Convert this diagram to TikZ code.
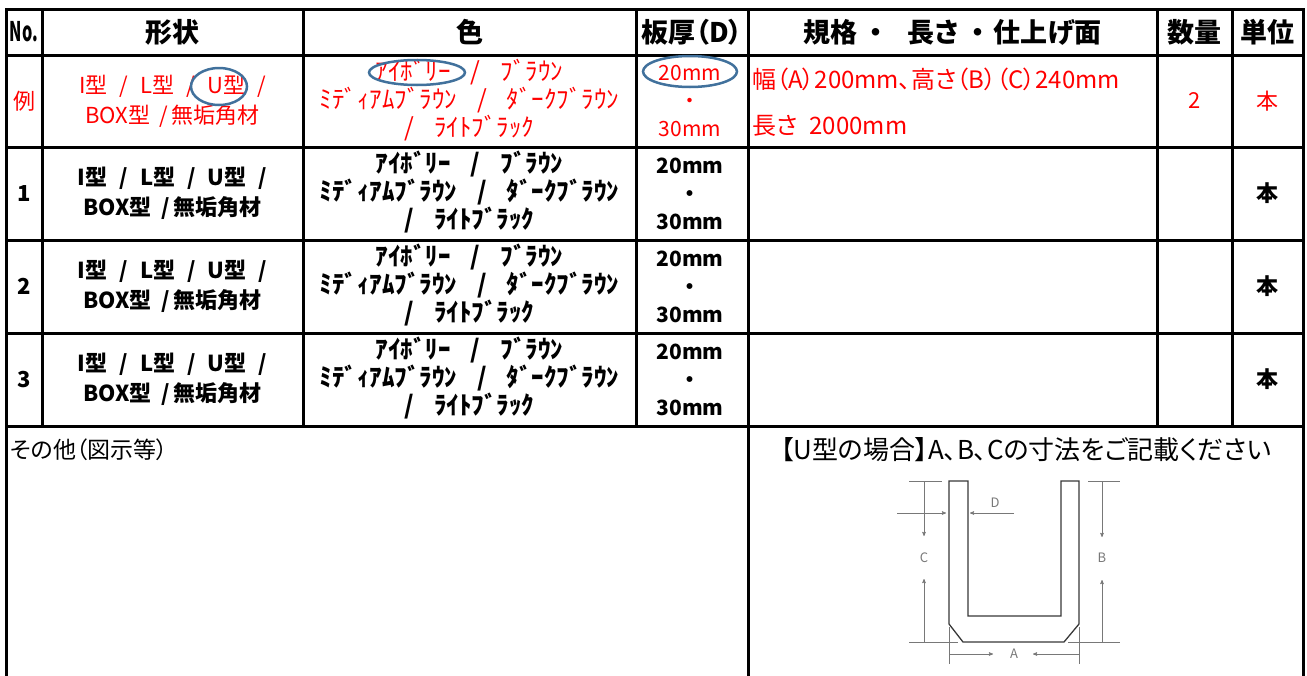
\documentclass[tikz,border=0pt]{standalone}
\usepackage{fontspec}
\usepackage{xcolor}
\usepackage{tikz}
\usetikzlibrary{arrows}
\setmainfont{Noto Sans CJK JP}[RawFeature=+palt]
\definecolor{ringblue}{RGB}{65,113,156}
\definecolor{partgray}{RGB}{55,55,55}
\definecolor{dimgray}{RGB}{120,120,120}
\newcommand{\fsep}{\hspace{0.55em}/\hspace{0.55em}}
\newcommand{\ksep}{\hspace{0.8em}/\hspace{0.8em}}
\tikzset{
  rule/.style={line width=3pt, line cap=rect},
  head/.style={font=\fontsize{27}{27}\selectfont\bfseries},
  cell/.style={align=center, font=\fontsize{22}{30}\selectfont#1},
  cell/.default=\bfseries,
  kana/.style={align=center, font=\fontsize{25}{28}\selectfont#1},
  kana/.default=\bfseries,
  mmcell/.style={align=center, font=\fontsize{21}{28}\selectfont#1},
  mmcell/.default=\bfseries,
  spec/.style={anchor=west, inner sep=0pt, text=red, font=\fontsize{24}{24}\selectfont},
  ring/.style={ringblue, line width=2.5pt},
  part/.style={partgray, line width=1.3pt},
  dimline/.style={dimgray, line width=0.6pt},
  dimarrow/.style={dimline, ->, >=stealth'},
  dimlabel/.style={text=dimgray, font=\fontsize{13}{13}\selectfont}
}
\begin{document}
\begin{tikzpicture}[x=1pt, y=-1pt]
\useasboundingbox (0,0) rectangle (1307,675);
\foreach \y in {9,55,147,240,333,426} {
 \draw[rule] (6,\y) -- (1303,\y);
}
\foreach \x in {42,303,636,1157,1232} {
 \draw[rule] (\x,9) -- (\x,426);
}
\foreach \x in {6,748,1303} {
 \draw[rule] (\x,9) -- (\x,675);
}
\node[head] (hno) at (24,32) {\scalebox{0.6}[1]{No.}};
\node[head] (hshape) at (172.5,32) {形状};
\node[head] (hcolor) at (469.5,32) {色};
\node[head] (hthick) at (692,32) {板厚（D）};
\node[head] (hspec) at (952.5,32) {規格\hspace{0.45em}・\hspace{0.9em}長さ\hspace{0.5em}・\hspace{0.3em}仕上げ面};
\node[head] (hqty) at (1194.5,32) {数量};
\node[head] (hunit) at (1267.5,32) {単位};
\node[cell=\mdseries, text=red] (no0) at (24,101) {例};
\node[cell=\mdseries, text=red] (shape0) at (172.5,101) {I型\fsep L型\fsep U型\hspace{0.55em}/\\BOX型\hspace{0.45em}/\hspace{0.15em}無垢角材};
\node[kana=\mdseries, text=red] (color0) at (469.5,100) {ｱｲﾎﾞﾘｰ\ksep ﾌﾞﾗｳﾝ\\ﾐﾃﾞｨｱﾑﾌﾞﾗｳﾝ\ksep ﾀﾞｰｸﾌﾞﾗｳﾝ\\/\hspace{0.8em}ﾗｲﾄﾌﾞﾗｯｸ};
\node[mmcell=\mdseries, text=red] (thick0) at (690,101) {20mm\\・\\30mm};
\node[spec] (spec0a) at (752,79) {幅（A）200mm、高さ（B）（C）240mm};
\node[spec] (spec0b) at (752,126) {長さ\hspace{0.5em}2000mm};
\node[cell=\mdseries, text=red] (qty0) at (1194.5,101) {2};
\node[cell=\mdseries, text=red] (unit0) at (1267.5,101) {本};
\draw[ring] (219,86.5) ellipse [x radius=28, y radius=18.5];
\draw[ring] (417,72.5) ellipse [x radius=48, y radius=12.5];
\draw[ring] (690,71.5) ellipse [x radius=47, y radius=15.5];
\foreach \n/\y in {1/193.5,2/286.5,3/379.5} {
 \node[cell] (no\n) at (24,\y) {\n};
 \node[cell] (shape\n) at (172.5,\y) {I型\fsep L型\fsep U型\hspace{0.55em}/\\BOX型\hspace{0.45em}/\hspace{0.15em}無垢角材};
 \node[kana] (color\n) at (469.5,\y-1) {ｱｲﾎﾞﾘｰ\ksep ﾌﾞﾗｳﾝ\\ﾐﾃﾞｨｱﾑﾌﾞﾗｳﾝ\ksep ﾀﾞｰｸﾌﾞﾗｳﾝ\\/\hspace{0.8em}ﾗｲﾄﾌﾞﾗｯｸ};
 \node[mmcell] (thick\n) at (690,\y) {20mm\\・\\30mm};
 \node[cell] (unit\n) at (1267.5,\y) {本};
}
\node[anchor=west, inner sep=0pt, font=\fontsize{23}{23}\selectfont] (other) at (10,450) {その他（図示等）};
\node[font=\fontsize{26}{26}\selectfont] (note) at (1026,450) {【U型の場合】A、B、Cの寸法をご記載ください};
\draw[part] (949,481) -- (949,624) -- (963,642) -- (1064,642) -- (1079,624) -- (1079,481) -- (1061,481) -- (1061,616) -- (968,616) -- (968,481) -- cycle;
\draw[dimline] (909,481) -- (942,481) (909,642) -- (958,642);
\draw[dimline] (1088,481) -- (1120,481) (1068,642) -- (1120,642);
\draw[dimline] (949,627) -- (949,664) (1079,627) -- (1079,664);
\coordinate (Cup) at (924,481);
\coordinate (Clow) at (924,642);
\coordinate (Bup) at (1102,481);
\coordinate (Blow) at (1102,642);
\coordinate (Dout) at (897,513);
\coordinate (Din) at (1014,513);
\coordinate (Aleft) at (949,654);
\coordinate (Aright) at (1079,654);
\node[dimlabel] (labC) at (924,558) {C};
\node[dimlabel] (labB) at (1102,558) {B};
\node[dimlabel] (labD) at (995,503) {D};
\node[dimlabel] (labA) at (1014,654) {A};
\draw[dimarrow] (Cup) -- ([yshift=-55pt]Cup);
\draw[dimarrow] (Clow) -- ([yshift=63pt]Clow);
\draw[dimarrow] (Bup) -- ([yshift=-56pt]Bup);
\draw[dimarrow] (Blow) -- ([yshift=62pt]Blow);
\draw[dimarrow] (Dout) -- ([xshift=49pt]Dout);
\draw[dimarrow] (Din) -- ([xshift=-44pt]Din);
\draw[dimarrow] (Aleft) -- ([xshift=44pt]Aleft);
\draw[dimarrow] (Aright) -- ([xshift=-46pt]Aright);
\end{tikzpicture}
\end{document}
